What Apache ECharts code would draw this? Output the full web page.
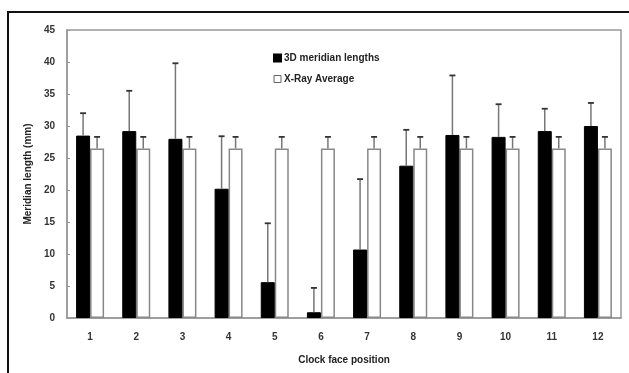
<!DOCTYPE html>
<html><head><meta charset="utf-8">
<script src="https://cdn.jsdelivr.net/npm/echarts@6/dist/echarts.min.js"></script>
<style>html,body{margin:0;padding:0;background:#fff}#c{width:629px;height:373px}</style>
</head><body><div id="c"></div>
<script>
var categories = ['1','2','3','4','5','6','7','8','9','10','11','12'];
var meridian3D = [28.5, 29.2, 28.0, 20.2, 5.6, 0.9, 10.7, 23.8, 28.6, 28.3, 29.2, 30.0];
var meridian3DErr = [32.0, 35.5, 39.8, 28.4, 14.8, 4.7, 21.7, 29.4, 37.9, 33.4, 32.7, 33.6];
var xrayAvg = [26.5, 26.5, 26.5, 26.5, 26.5, 26.5, 26.5, 26.5, 26.5, 26.5, 26.5, 26.5];
var xrayErr = [28.3, 28.3, 28.3, 28.3, 28.3, 28.3, 28.3, 28.3, 28.3, 28.3, 28.3, 28.3];
var yTicks = [0, 5, 10, 15, 20, 25, 30, 35, 40, 45];

var BAR_W = 14;
function errData(vals, tops) {
  return vals.map(function (v, i) { return [i, v, tops[i]]; });
}
function errRender(offset, stemColor, capColor) {
  return function (params, api) {
    var i = api.value(0);
    var p0 = api.coord([i, api.value(1)]);
    var p1 = api.coord([i, api.value(2)]);
    var x = p0[0] + offset;
    var cap = 3;
    return {
      type: 'group',
      children: [
        { type: 'line', shape: { x1: x, y1: p0[1], x2: x, y2: p1[1] }, style: { stroke: stemColor, lineWidth: 1.5 } },
        { type: 'line', shape: { x1: x - cap, y1: p1[1], x2: x + cap, y2: p1[1] }, style: { stroke: capColor, lineWidth: 1.8 } }
      ]
    };
  };
}

var chart = echarts.init(document.getElementById('c'), null, { renderer: 'canvas' });
chart.setOption({
  animation: false,
  textStyle: { fontFamily: 'Liberation Sans, Arial, sans-serif' },
  graphic: [{
    type: 'rect', silent: true,
    shape: { x: 8, y: 12, width: 640, height: 400 },
    style: { fill: 'none', stroke: '#111', lineWidth: 2 }
  }],
  grid: { left: 67, top: 30, right: 8, bottom: 55, show: true, borderColor: '#999', borderWidth: 1.5, backgroundColor: 'transparent' },
  legend: {
    orient: 'vertical', left: 268, top: 48, itemWidth: 7, itemHeight: 7, itemGap: 11,
    textStyle: { fontSize: 10, color: '#222', fontWeight: 'bold', padding: [0, 0, 0, -2] },
    data: [
      { name: '3D meridian lengths', icon: 'rect', itemStyle: { color: '#000', borderColor: '#000' } },
      { name: 'X-Ray Average', icon: 'rect', itemStyle: { color: '#fff', borderColor: '#666', borderWidth: 1 } }
    ]
  },
  xAxis: {
    type: 'category', data: categories,
    name: 'Clock face position', nameLocation: 'middle', nameGap: 37,
    nameTextStyle: { fontSize: 10, fontWeight: 'bold', color: '#222' },
    axisLine: { show: true, lineStyle: { color: '#999', width: 1.5 } },
    axisTick: { show: false },
    axisLabel: { fontSize: 10, color: '#333', fontWeight: 'bold', margin: 14 }
  },
  yAxis: {
    type: 'value', min: yTicks[0], max: yTicks[yTicks.length - 1], interval: 5,
    name: 'Meridian length (mm)', nameLocation: 'middle', nameGap: 33,
    nameTextStyle: { fontSize: 10, fontWeight: 'bold', color: '#222' },
    axisLine: { show: true, lineStyle: { color: '#999', width: 1.5 } },
    axisTick: { show: true, inside: true, length: 3, lineStyle: { color: '#999' } },
    splitLine: { show: false },
    axisLabel: { fontSize: 10, color: '#333', fontWeight: 'bold', margin: 12 }
  },
  series: [
    { name: '3D meridian lengths', type: 'bar', data: meridian3D, barWidth: BAR_W, barGap: '0%',
      itemStyle: { color: '#000', borderColor: '#000', borderWidth: 1 }, z: 3 },
    { name: 'X-Ray Average', type: 'bar', data: xrayAvg, barWidth: BAR_W, barGap: '0%',
      itemStyle: { color: '#fff', borderColor: '#888', borderWidth: 1.5 }, z: 2 },
    { name: 'err3D', type: 'custom', renderItem: errRender(-BAR_W / 2, '#777', '#333'),
      data: errData(meridian3D, meridian3DErr), encode: { x: 0, y: [1, 2] }, z: 4 },
    { name: 'errXray', type: 'custom', renderItem: errRender(BAR_W / 2, '#777', '#333'),
      data: errData(xrayAvg, xrayErr), encode: { x: 0, y: [1, 2] }, z: 4 }
  ]
});
</script></body></html>
